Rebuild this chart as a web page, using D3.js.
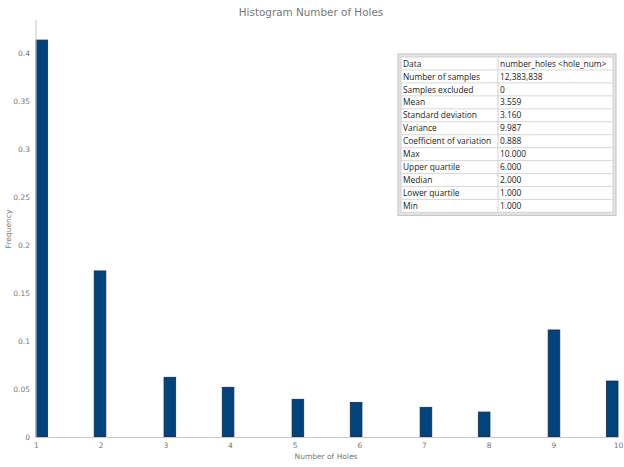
<!DOCTYPE html>
<html><head><meta charset="utf-8">
<script src="https://cdn.jsdelivr.net/npm/d3@7"></script>
<style>body{margin:0;background:#fff}svg{display:block}</style>
</head><body>
<script>
const holeValues = [1, 2, 3, 4, 5, 6, 7, 8, 9, 10];
const frequencies = [0.4135, 0.173, 0.0622, 0.0518, 0.0393, 0.0361, 0.0309, 0.026, 0.1115, 0.0583];
const xTicks = [1, 2, 3, 4, 5, 6, 7, 8, 9, 10];
const yTicks = [0, 0.05, 0.1, 0.15, 0.2, 0.25, 0.3, 0.35, 0.4];
const statLabels = ["Data", "Number of samples", "Samples excluded", "Mean", "Standard deviation", "Variance", "Coefficient of variation", "Max", "Upper quartile", "Median", "Lower quartile", "Min"];
const statValues = ["number_holes <hole_num>", "12,383,838", "0", "3.559", "3.160", "9.987", "0.888", "10.000", "6.000", "2.000", "1.000", "1.000"];
const binCount = 50;
const xMin = 1, xMax = 10;

const W = 624, H = 467;
const svg = d3.select("body").append("svg").attr("width", W).attr("height", H);
const x = d3.scaleLinear().domain([xMin, xMax]).range([36, 618]);
const y = d3.scaleLinear().domain([0, 0.4344]).range([437, 20]);
const binW = (xMax - xMin) / binCount;
const binStart = v => xMin + Math.min(binCount - 1, Math.floor((v - xMin) / binW + 1e-9)) * binW;

const axisCol = "#c8c8c8", txtCol = "#777";
const font = "DejaVu Sans, Verdana, sans-serif";
// title
svg.append("text").attr("x", 311).attr("y", 16).attr("text-anchor", "middle")
  .attr("font-family", font).attr("font-size", 10.4).attr("fill", "#777")
  .text("Histogram Number of Holes");

// bars
svg.append("g").selectAll("rect").data(holeValues).join("rect")
  .attr("x", (d) => x(binStart(d)))
  .attr("width", (d) => x(binStart(d) + binW) - x(binStart(d)))
  .attr("y", (d, i) => y(frequencies[i]))
  .attr("height", (d, i) => y(0) - y(frequencies[i]))
  .attr("fill", "#00437d").attr("stroke", "#1c2b40").attr("stroke-width", 0.8);

// axes
const xa = svg.append("g").attr("transform", "translate(0,437)")
  .call(d3.axisBottom(x).tickValues(xTicks).tickSize(0).tickPadding(6).tickFormat(d3.format("d")));
const ya = svg.append("g").attr("transform", "translate(36,0)")
  .call(d3.axisLeft(y).tickValues(yTicks).tickSize(0).tickPadding(6).tickFormat(d => d === 0 ? "0" : String(+d.toFixed(2))));
[xa, ya].forEach(a => {
  a.select(".domain").attr("stroke", axisCol);
  a.selectAll("text").attr("fill", txtCol).attr("font-family", font).attr("font-size", 7.5);
});
ya.select(".domain").attr("d", "M0,20V437");

svg.append("text").attr("x", 326).attr("y", 459).attr("text-anchor", "middle")
  .attr("font-family", font).attr("font-size", 7.5).attr("fill", txtCol)
  .text("Number of Holes");
svg.append("text").attr("transform", "translate(11,229) rotate(-90)").attr("text-anchor", "middle")
  .attr("font-family", font).attr("font-size", 7.5).attr("fill", txtCol)
  .text("Frequency");

// stats table
const tx = 401, ty = 57, tw = 212, rh = 12.95, c1 = 97;
const tg = svg.append("g");
tg.append("rect").attr("x", tx - 3).attr("y", ty - 3).attr("width", tw + 6).attr("height", rh * statLabels.length + 6)
  .attr("fill", "#e4e4e4").attr("stroke", "#c4c4c4");
tg.append("rect").attr("x", tx).attr("y", ty).attr("width", tw).attr("height", rh * statLabels.length)
  .attr("fill", "#fff").attr("stroke", "#d0d0d0");
const rows = tg.selectAll("g.r").data(statLabels).join("g").attr("class", "r")
  .attr("transform", (d, i) => `translate(${tx},${ty + i * rh})`);
rows.append("line").attr("x1", 0).attr("x2", tw).attr("y1", rh).attr("y2", rh).attr("stroke", "#d8d8d8");
rows.append("text").attr("x", 2).attr("y", rh - 3.3).text(d => d);
rows.append("text").attr("x", c1 + 2).attr("y", rh - 3.3).text((d, i) => statValues[i]);
rows.selectAll("text").attr("font-family", "Open Sans, Noto Sans, sans-serif").attr("font-size", 8.4).attr("fill", "#222");
tg.append("line").attr("x1", tx + c1).attr("x2", tx + c1).attr("y1", ty).attr("y2", ty + rh * statLabels.length).attr("stroke", "#d0d0d0");
</script>
</body></html>
